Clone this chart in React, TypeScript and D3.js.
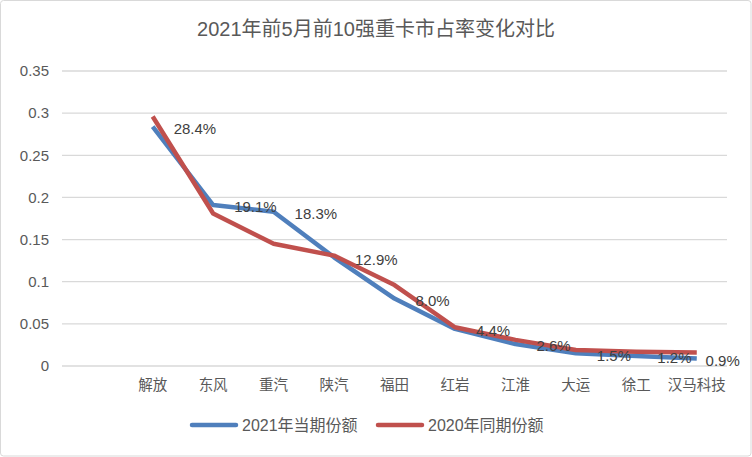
import React from "react";
import * as d3 from "d3";

const categories = ["", "解放", "东风", "重汽", "陕汽", "福田", "红岩", "江淮", "大运", "徐工", "汉马科技"];
const series2021 = [0.284, 0.191, 0.183, 0.129, 0.080, 0.044, 0.026, 0.015, 0.012, 0.009];
const series2020 = [0.296, 0.181, 0.145, 0.131, 0.096, 0.046, 0.031, 0.019, 0.017, 0.016];
const dataCats = categories.slice(1);
const yTicks = [0, 0.05, 0.1, 0.15, 0.2, 0.25, 0.3, 0.35];
const title = "2021年前5月前10强重卡市占率变化对比";
const legendNames = ["2021年当期份额", "2020年同期份额"];

const W = 752, H = 457;
const FONT = "'Liberation Sans', 'Noto Sans CJK SC', sans-serif";
const TXT = "#595959";
const BLUE = "#4f7fbc";
const RED = "#c0504d";

export default function App() {
  const x = d3.scaleBand<string>().domain(categories).range([62, 727]);
  const y = d3.scaleLinear().domain([0, 0.35]).range([366, 71]);
  const cx = (c: string) => (x(c) as number) + x.bandwidth() / 2;
  const line = d3
    .line<number>()
    .x((_, i) => cx(dataCats[i]))
    .y((d) => y(d));
  const labelX = (i: number, s: string) => {
    const w = s.length * 8.6;
    return Math.min(cx(dataCats[i]) + 21, 740 - w);
  };
  return (
    <svg width={W} height={H} style={{ position: "absolute", left: 0, top: 0 }} fontFamily={FONT}>
      <rect x={0.5} y={0.5} width={W - 1.5} height={H - 1.5} rx={3} fill="#fff" stroke="#d9d9d9" />
      <text x={376} y={29} dy="0.35em" textAnchor="middle" fontSize={20} fill={TXT}>{title}</text>
      {yTicks.map((t) => (
        <g key={t}>
          <line x1={62} x2={727} y1={y(t)} y2={y(t)} stroke="#d9d9d9" strokeWidth={1.3} />
          <text x={49} y={y(t)} dy="0.35em" textAnchor="end" fontSize={15} fill={TXT}>{t}</text>
        </g>
      ))}
      {dataCats.map((c) => (
        <text key={c} x={cx(c)} y={385} dy="0.35em" textAnchor="middle" fontSize={14.5} fill={TXT}>{c}</text>
      ))}
      <path d={line(series2021) || ""} fill="none" stroke={BLUE} strokeWidth={4.5} strokeLinejoin="round" />
      <path d={line(series2020) || ""} fill="none" stroke={RED} strokeWidth={4.5} strokeLinejoin="round" />
      {series2021.map((v, i) => {
        const s = (v * 100).toFixed(1) + "%";
        return (
          <text key={i} x={labelX(i, s)} y={y(v) + 2} dy="0.35em" fontSize={15} fill="#404040">
            {s}
          </text>
        );
      })}
      <line x1={192} x2={236} y1={425} y2={425} stroke={BLUE} strokeWidth={4.5} strokeLinecap="round" />
      <text x={242} y={425} dy="0.35em" fontSize={16} fill={TXT}>{legendNames[0]}</text>
      <line x1={378} x2={422} y1={425} y2={425} stroke={RED} strokeWidth={4.5} strokeLinecap="round" />
      <text x={428} y={425} dy="0.35em" fontSize={16} fill={TXT}>{legendNames[1]}</text>
    </svg>
  );
}
